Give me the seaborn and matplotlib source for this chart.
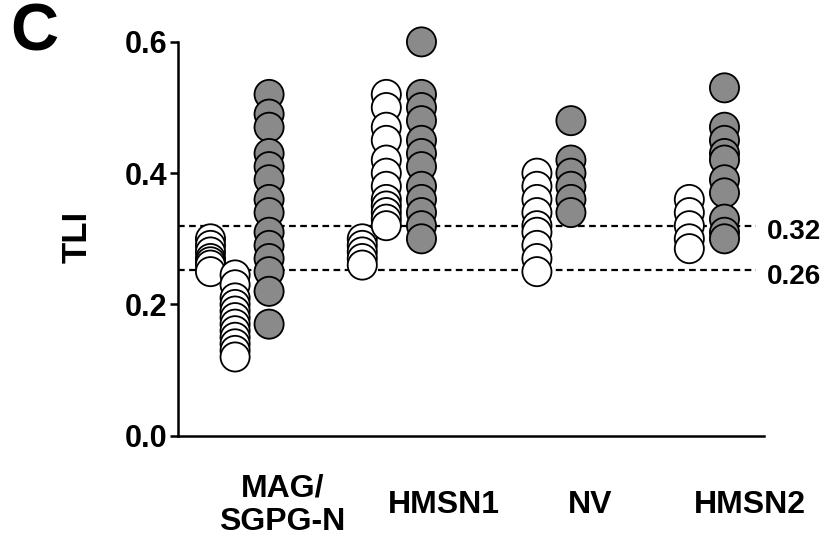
import pandas as pd
import seaborn as sns
from matplotlib import pyplot as plt

# TLI values per column
mag_white_a = [0.30, 0.29, 0.28, 0.27, 0.265, 0.26, 0.25]
mag_white_b = [0.245, 0.23, 0.21, 0.20, 0.19, 0.18, 0.17, 0.16, 0.15, 0.14, 0.13, 0.12]
mag_gray = [0.52, 0.49, 0.47, 0.43, 0.41, 0.39, 0.36, 0.34, 0.31, 0.29, 0.27, 0.25, 0.22, 0.17]
hmsn1_white_a = [0.30, 0.29, 0.28, 0.27, 0.26]
hmsn1_white_b = [0.52, 0.50, 0.47, 0.45, 0.42, 0.40, 0.38, 0.36, 0.35, 0.34, 0.33, 0.32]
hmsn1_gray = [0.60, 0.52, 0.50, 0.48, 0.45, 0.43, 0.41, 0.38, 0.36, 0.34, 0.32, 0.30]
nv_white = [0.40, 0.38, 0.36, 0.34, 0.32, 0.31, 0.29, 0.27, 0.25]
nv_gray = [0.48, 0.42, 0.40, 0.38, 0.36, 0.34]
hmsn2_white = [0.36, 0.34, 0.32, 0.30, 0.285]
hmsn2_gray = [0.53, 0.47, 0.45, 0.43, 0.42, 0.39, 0.37, 0.33, 0.31, 0.30]

groups = ["MAG/\nSGPG-N", "HMSN1", "NV", "HMSN2"]
cutoffs = [0.32, 0.252]
cutoff_labels = ["0.32", "0.26"]

# columns: (values, fill), and where each column sits on the x axis
columns = [
    (mag_white_a, "open"), (mag_white_b, "open"), (mag_gray, "filled"),
    (hmsn1_white_a, "open"), (hmsn1_white_b, "open"), (hmsn1_gray, "filled"),
    (nv_white, "open"), (nv_gray, "filled"),
    (hmsn2_white, "open"), (hmsn2_gray, "filled"),
]
col_x = [0.55, 0.97, 1.55, 3.14, 3.55, 4.15, 6.12, 6.70, 8.72, 9.32]
group_x = [1.78, 4.54, 7.02, 9.76]

rows = []
for (vals, fill), xpos in zip(columns, col_x):
    for v in sorted(vals, reverse=True):
        rows.append({"x": xpos, "TLI": v, "fill": fill})
df = pd.DataFrame(rows)

sns.set_style("ticks")
plt.rcParams["font.family"] = ["Liberation Sans", "DejaVu Sans"]
plt.rcParams["font.weight"] = "bold"
plt.rcParams["text.color"] = "black"
plt.rcParams["axes.labelcolor"] = "black"
plt.rcParams["xtick.color"] = "black"
plt.rcParams["ytick.color"] = "black"
plt.rcParams["axes.edgecolor"] = "black"

fig = plt.figure(figsize=(8.29, 5.44), dpi=100)
ax = fig.add_axes([0.215, 0.199, 0.707, 0.724])

for y in cutoffs:
    ax.hlines(y, 0, 9.85, colors="black", linestyles=(0, (3, 2)), linewidth=1.6, zorder=1)

sns.scatterplot(data=df, x="x", y="TLI", hue="fill",
                palette={"open": "white", "filled": "#8a8a8a"},
                s=440, edgecolor="black", linewidth=1.3, legend=False,
                ax=ax, zorder=3, clip_on=False)

for y, lab in zip(cutoffs, cutoff_labels):
    ax.text(10.05, y - 0.01, lab, ha="left", va="center", fontsize=20,
            fontweight="bold", clip_on=False)

ax.set_xlim(0, 10)
ax.set_ylim(0, 0.6)
ax.set_yticks([0.0, 0.2, 0.4, 0.6])
ax.set_yticklabels(["0.0", "0.2", "0.4", "0.6"])
ax.set_xticks(group_x)
ax.set_xticklabels(groups, linespacing=1.15)
for t in ax.get_xticklabels():
    t.set_va("center")
ax.tick_params(axis="x", length=0, pad=50, labelsize=23)
ax.tick_params(axis="y", length=6, width=1.8, labelsize=22, pad=2)
for lab in ax.get_xticklabels() + ax.get_yticklabels():
    lab.set_fontweight("bold")

ax.set_xlabel("")
ax.set_ylabel("TLI", fontsize=25, fontweight="bold")
ax.yaxis.set_label_coords(-0.145, 0.505)
sns.despine(ax=ax)
for side in ["left", "bottom"]:
    ax.spines[side].set_linewidth(1.8)

fig.text(0.012, 0.995, "C", fontsize=48, fontweight="bold", va="top", ha="left")

fig.savefig("out.png", dpi=100)
